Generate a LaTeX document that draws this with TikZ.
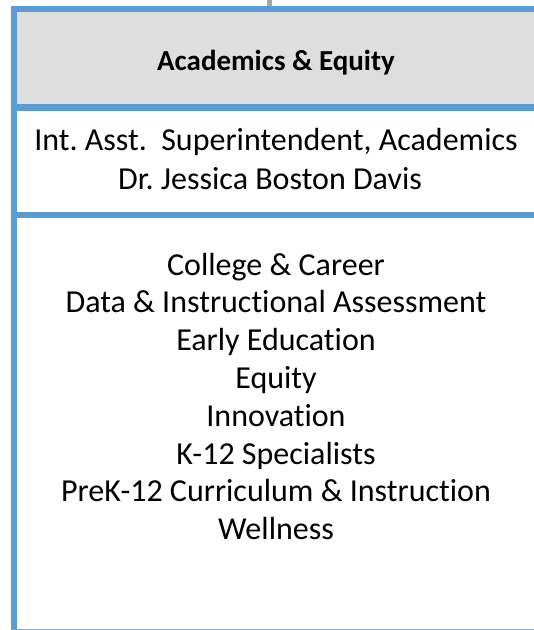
\documentclass[tikz,border=0pt]{standalone}
\usepackage{fontspec}
\setmainfont{Carlito}[Ligatures=NoCommon,RawFeature={-liga}]
\frenchspacing
\definecolor{bl}{HTML}{5B9BD5}
\definecolor{hd}{HTML}{DEDEDE}
\definecolor{cn}{HTML}{A5A5A5}
\tikzset{
  border/.style={bl, line width=6pt},
  txt/.style={anchor=base, inner sep=0pt, font=\fontsize{32}{38}\selectfont},
  head/.style={anchor=base, inner sep=0pt, font=\fontsize{29}{34}\selectfont\bfseries},
}
\begin{document}
\begin{tikzpicture}[x=1pt,y=-1pt]
\useasboundingbox (0,0) rectangle (534,630);
\clip (0,0) rectangle (534,630);
\fill[white] (0,0) rectangle (534,630);
\fill[hd] (14,9) rectangle (545,107.5);
\coordinate (ctop) at (269.5,0);
\coordinate (cbot) at (269.5,9);
\draw[cn, line width=5pt] (ctop) -- (cbot);
\draw[border] (14,633) -- (14,9) -- (545,9);
\draw[border, line width=6.5pt] (14,107.5) -- (545,107.5);
\draw[border] (14,215) -- (545,215);
\draw[border, bl!80] (11,631.6) -- (545,631.6);
\node[head] (hdr) at (276,70) {Academics \& Equity};
\node[txt] (role) at (276,150.7) {Int. Asst.\ \ Superintendent, Academics};
\node[txt] (name) at (270,189.3) {Dr. Jessica Boston Davis};
\foreach \t [count=\i] in {College \& Career, Data \& Instructional Assessment, Early Education, Equity, Innovation, K-12 Specialists, PreK-12 Curriculum \& Instruction, Wellness}
  \node[txt] (l\i) at (276,{275+37.8*(\i-1)}) {\t};
\end{tikzpicture}
\end{document}
